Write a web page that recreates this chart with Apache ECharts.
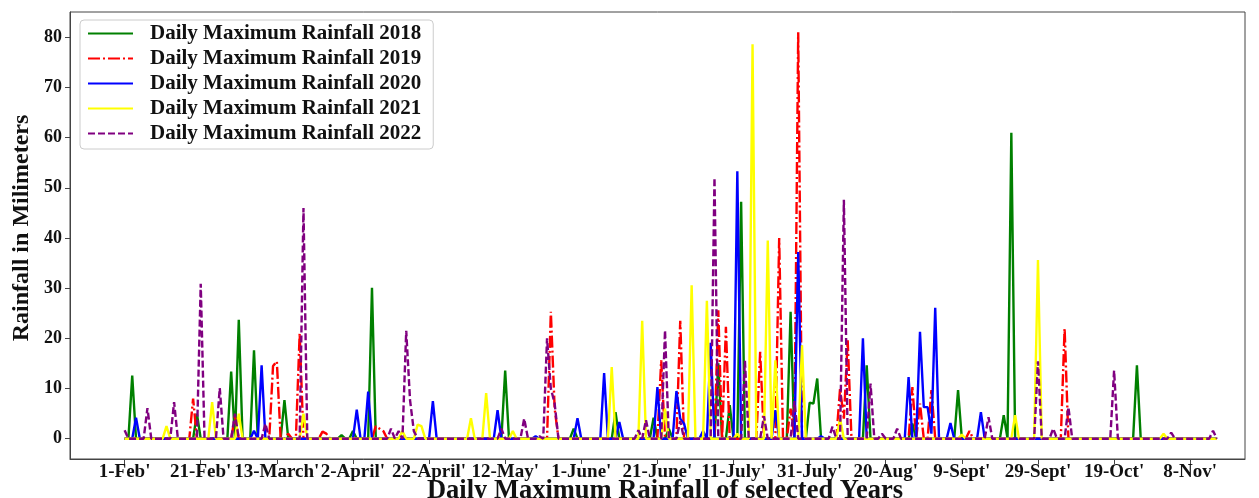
<!DOCTYPE html>
<html>
<head>
<meta charset="utf-8">
<script src="https://cdn.jsdelivr.net/npm/echarts@6/dist/echarts.min.js"></script>
<style>
html,body{margin:0;padding:0;background:#fff;}
#chart{width:1259px;height:498px;}
</style>
</head>
<body>
<div id="chart"></div>
<script>
// Tick labels (every 20 days starting 1-Feb)
const tickDays = [0,20,40,60,80,100,120,140,160,180,200,220,240,260,280];
const tickLabels = ["1-Feb'","21-Feb'","13-March'","2-April'","22-April'","12-May'","1-June'","21-June'","11-July'","31-July'","20-Aug'","9-Sept'","29-Sept'","19-Oct'","8-Nov'"];
const yTicks = [0,10,20,30,40,50,60,70,80];

// Daily maximum rainfall (mm), 1-Feb .. 15-Nov (288 days), 20 values per row
const rain2018 = [
0,0,12.6,0,0,0,0,0,0,0,0,0,0,0,0,0,0,0,0,5,
0,0,0,0,0,0,0,0,13.4,0,23.7,0,0,0,17.6,0,0,0,0,0,
0,0,7.7,0,0,0,0,0,0,0,0,0,0,0,0,0,0,0.7,0,0,
1.5,0,0,0,0,30.1,0,0,0,0,0,0,0,0,0,0,0,0,0,0,
0,0,0,0,0,0,0,0,0,0,0,0,0,0,0,0,0,0,0,0,
13.6,0,0,0,0,0,0,0,0,0,0,0,0,0,0,0,0,0,2,0,
0,0,0,0,0,0,0,0,0,5.3,0,0,0,0,0,0,0,0,0,4.2,
0,0,0,2,0,0,0,0,0,0,0,0,0,0,0,0,15,0,0,6.7,
0,0,47.2,0,0,0,0,0,0,0,0,0,0,0,0,25.3,0,0,0,0,
7.2,7,12,0,0,0,0,0,0,0,0,0,0,0,0,14.6,0,0,0,0,
0,0,0,0,0,0,0,3,0,0,0,0,0,0,0,0,0,0,0,9.7,
0,0,0,0,0,0,0,0,0,0,0,4.7,0,61,0,0,0,0,0,0,
0,0,0,0,0,0,0,0,0,0,0,0,0,0,0,0,0,0,0,0,
0,0,0,0,0,0,14.6,0,0,0,0,0,0,0,0,0,0,0,0,0,
0,0,0,0,0,0,0,0
];
const rain2019 = [
0,0,0,0,0,0,0,0,0,0,0,0,0,0,0,0,0,0,8,0,
0,0,0,0,0,0,0,0,0,4.5,0,0,0,0,0,0,0,0,0,14.5,
15.4,0,0,1,0,0,21,0,0,0,0,0,1.4,1,0,0,0,0,0,0,
0,0,0,0,0,0,2.5,2,1.5,0,0,0,0,0,0,0,0,0,0,0,
0,0,0,0,0,0,0,0,0,0,0,0,0,0,0,0,0,0,0,0,
0,0,0,0,0,0,0,0,0,0,0,0,25.3,6,0,0,0,0,0,0,
0,0,0,0,0,0,0,0,0,0,0,0,0,0,0,0,0,0,0,0,
0,15.6,0,0,0,0,23.5,0,0,0,0,0,0,0,0,0,25.6,0,22.3,0,
0,0,0,0,0,0,0,17.3,0,0,0,0,40,0,0,6,0,81,0,0,
0,0,0,0,0,0,0,0,10,4,19.6,0,0,0,0,0,0,0,0,0,
0,0,0,0,0,0,0,10.3,0,7,0,0,9.7,0,0,0,0,0,0,0,
0,0,1.5,0,0,0,0,0,0,0,0,0,0,0,0,0,0,0,0,0,
0,0,0,0,0,0,0,22,0,0,0,0,0,0,0,0,0,0,0,0,
0,0,0,0,0,0,0,0,0,0,0,0,0,0,0,0,0,0,0,0,
0,0,0,0,0,0,0,0
];
const rain2020 = [
0,0,0,4.2,0,0,0,0,0,0,0,0,0,0,0,0,0,0,0,0,
0,0,0,0,0,0,0,0,0,0,0,0,0,0,1.6,0,14.6,0,0,0,
0,0,0,0,0,0,0,0,0,0,0,0,0,0,0,0,0,0,0,0,
0,5.8,0,0,9.4,0,0,0,0,0,0,0,0,0,0,0,0,0,0,0,
0,7.5,0,0,0,0,0,0,0,0,0,0,0,0,0,0,0,0,5.7,0,
0,0,0,0,0,0,0,0,0.5,0,0,0,0,0,0,0,0,0,0,4.1,
0,0,0,0,0,0,13.1,0,0,0,3.3,0,0,0,0,0,0,0,0,0,
10.3,0,0,0,0,9.5,4,3,0,0,0,0,1.5,0,19.1,0,0,0,0,0,
0,53.3,0,0,0,0,0,0,0,0,0,5.7,0,0,0,0,0,37.2,0,0,
0,0,0,0.5,0,0,0,0,0,0,0,0,0,0,20,0,0,0,0,0,
0,0,0,0,0,0,12.3,0,0,21.3,6.3,6.3,1,26.1,0,0,0,3.1,0,0,
0,0,0,0,0,5.3,0,0,0,0,0,0,0,0,0,0,0,0,0,0,
0,0,0,0,0,0,0,0,0,0,0,0,0,0,0,0,0,0,0,0,
0,0,0,0,0,0,0,0,0,0,0,0,0,0,0,0,0,0,0,0,
0,0,0,0,0,0,0,0
];
const rain2021 = [
0,0,0,0,0,0,0,0,0,0,0,2.5,0,0,0,0,0,0,0,0,
0,0,0,7.3,0,0,0,0,0,0,5,0,0,0,0,0,0,0,0,0,
0,0,0,0,0,0,0,5,0,0,0,0,0,0,0,0,0,0,0,0,
0,0,0,0,0,0,0,0,0,0,0,0,0,1.5,0,0,0,2.8,2.5,0,
0,0,0,0,0,0,0,0,0,0,0,4.1,0,0,0,9.1,0,0,0,0,
0,0,1.5,0,0,0,0,0,0,0,0,0,0,0,0,0,0,0,0,0,
0,0,0,0,0,0,0,0,14.3,0,0,0,0,0,0,0,23.5,0,0,0,
0,0,6,0,0,0,0,0,0,30.6,0,0,0,27.5,0,0,0,0,0,0,
0,1,0,0,0,78.6,0,0,0,39.5,0,15.6,0,0,0,0,0,0,18.6,0,
0,0,0,0,0,0,0,0,4,0,0,0,0,0,0,0,0,0,0,0,
0,0,0,0,0,0,0,0,0,0,0,0,0,0,0,0,0,0,0,0,
0.8,0,0,0,0,0,0,0,0,0,0,0,0,0,4.7,0,0,0,0,0,
35.6,0,0,0,0,0,0,0,0,0,0,0,0,0,0,0,0,0,0,0,
0,0,0,0,0,0,0,0,0,0,0,0,0,1,0,0,0,0,0,0,
0,0,0,0,0,0,0,0
];
const rain2022 = [
1.7,0,0,0,0,0,6.1,0,0,0,0,0,0,7.3,0,0,0,0,0,0,
30.9,0,0,0,0,10.1,0,0,0,5,0,0,0,0,0,0,0,3,0,0,
0,0,0,0,0,0,0,46,0,0,0,0,0,0,0,0,0,0,0,0,
0,0,0,0,0,0,0,0,0,0,2,0,1.5,0,21.5,7.7,1.5,0,0,0,
0,0,0,0,0,0,0,0,0,0,0,0,0,0,0,0,0,0,0,2,
0,0,0,0,0,4,0,0,0,0.5,0,20,10,7,0,0,0,0,0,0,
0,0,0,0,0,0,0,0,0,0,0,0,0,0,0,1.7,0,3.7,0,0,
0,0,21.6,0,0,0,3.5,0,0,0,0,0,0,0,0,52,0,0,0,0,
0,0,0,15.5,0,0,0,0,4.5,0,0,0,0,0,0,0,7.5,0,0,0,
0,0,0,0,0,0,2.4,0,0,47.6,0,0,0,0,0,0,11,0,0,1,
0,0,0,2,0,0,0,0,0,0,0,0,0,0,0,0,0,0,0,0,
0,0,0,0,0,0,0,4.3,0,0,0,0,0,0,0,0,0,0,0,0,
15.4,0,0,0,2,0,0,0,6.3,0,0,0,0,0,0,0,0,0,0,0,
13.6,0,0,0,0,0,0,0,0,0,0,0,0,0,0,1.2,0,0,0,0,
0,0,0,0,0,0,1.6,0
];

const seriesNames = ['Daily Maximum Rainfall 2018','Daily Maximum Rainfall 2019','Daily Maximum Rainfall 2020','Daily Maximum Rainfall 2021','Daily Maximum Rainfall 2022'];
const seriesData = [rain2018, rain2019, rain2020, rain2021, rain2022];
const colors = ['#008000','#ff0000','#0000ff','#ffff00','#800080'];
const dashes = ['solid',[12,3,2,3],'solid','solid',[7,3]];

const FONT = "'Liberation Serif','Times New Roman',serif";
const chart = echarts.init(document.getElementById('chart'), null, {renderer:'canvas'});

const labelMap = {};
tickDays.forEach((d,i)=>{labelMap[d]=tickLabels[i];});

chart.setOption({
  animation:false,
  backgroundColor:'#fff',
  grid:{left:70,right:14,top:12,bottom:39,show:true,borderColor:'#444',borderWidth:1,backgroundColor:'transparent'},
  legend:{
    orient:'vertical',left:80,top:20,
    padding:[3,12,5,7],
    itemWidth:45,itemHeight:14,itemGap:4,
    borderColor:'#cccccc',borderWidth:1,borderRadius:4,
    backgroundColor:'rgba(255,255,255,0.8)',
    itemStyle:{color:'rgba(0,0,0,0)',borderColor:'rgba(0,0,0,0)',borderWidth:0},
    lineStyle:{width:2},
    textStyle:{fontFamily:FONT,fontWeight:'bold',fontSize:21,color:'#111',lineHeight:20,padding:[0,0,0,12]},
    data:seriesNames
  },
  xAxis:{
    type:'value',min:-14.35,max:294.4,
    axisLine:{show:true,onZero:false,lineStyle:{color:'#444',width:1}},
    axisTick:{show:true,length:5,inside:false,customValues:tickDays,lineStyle:{color:'#444'}},
    axisLabel:{customValues:tickDays,margin:4,fontFamily:FONT,fontWeight:'bold',fontSize:19,color:'#111',
      formatter:function(v){return labelMap[Math.round(v)]||'';}},
    splitLine:{show:false}
  },
  yAxis:{
    type:'value',min:-4.05,max:85.05,
    axisLine:{show:true,onZero:false,lineStyle:{color:'#444',width:1}},
    axisTick:{show:true,length:5,inside:false,customValues:yTicks,lineStyle:{color:'#444'}},
    axisLabel:{customValues:yTicks,margin:8,fontFamily:FONT,fontWeight:'bold',fontSize:18,color:'#111',
      formatter:function(v){return String(Math.round(v));}},
    splitLine:{show:false}
  },
  graphic:[
    {type:'text',x:665,y:478,style:{text:'Daily Maximum Rainfall of selected Years',font:"bold 26.5px "+FONT,fill:'#111',textAlign:'center',textVerticalAlign:'top'}},
    {type:'text',x:22,y:228,rotation:Math.PI/2,style:{text:'Rainfall in Milimeters',font:"bold 24px "+FONT,fill:'#111',textAlign:'center',textVerticalAlign:'middle'}}
  ],
  series:seriesData.map((arr,k)=>({
    name:seriesNames[k],type:'line',symbol:'none',showSymbol:false,
    data:arr.map((v,i)=>[i,v]),
    color:colors[k],
    lineStyle:{color:colors[k],width:2.4,type:dashes[k]},
    z:2+k
  }))
});
</script>
</body>
</html>
